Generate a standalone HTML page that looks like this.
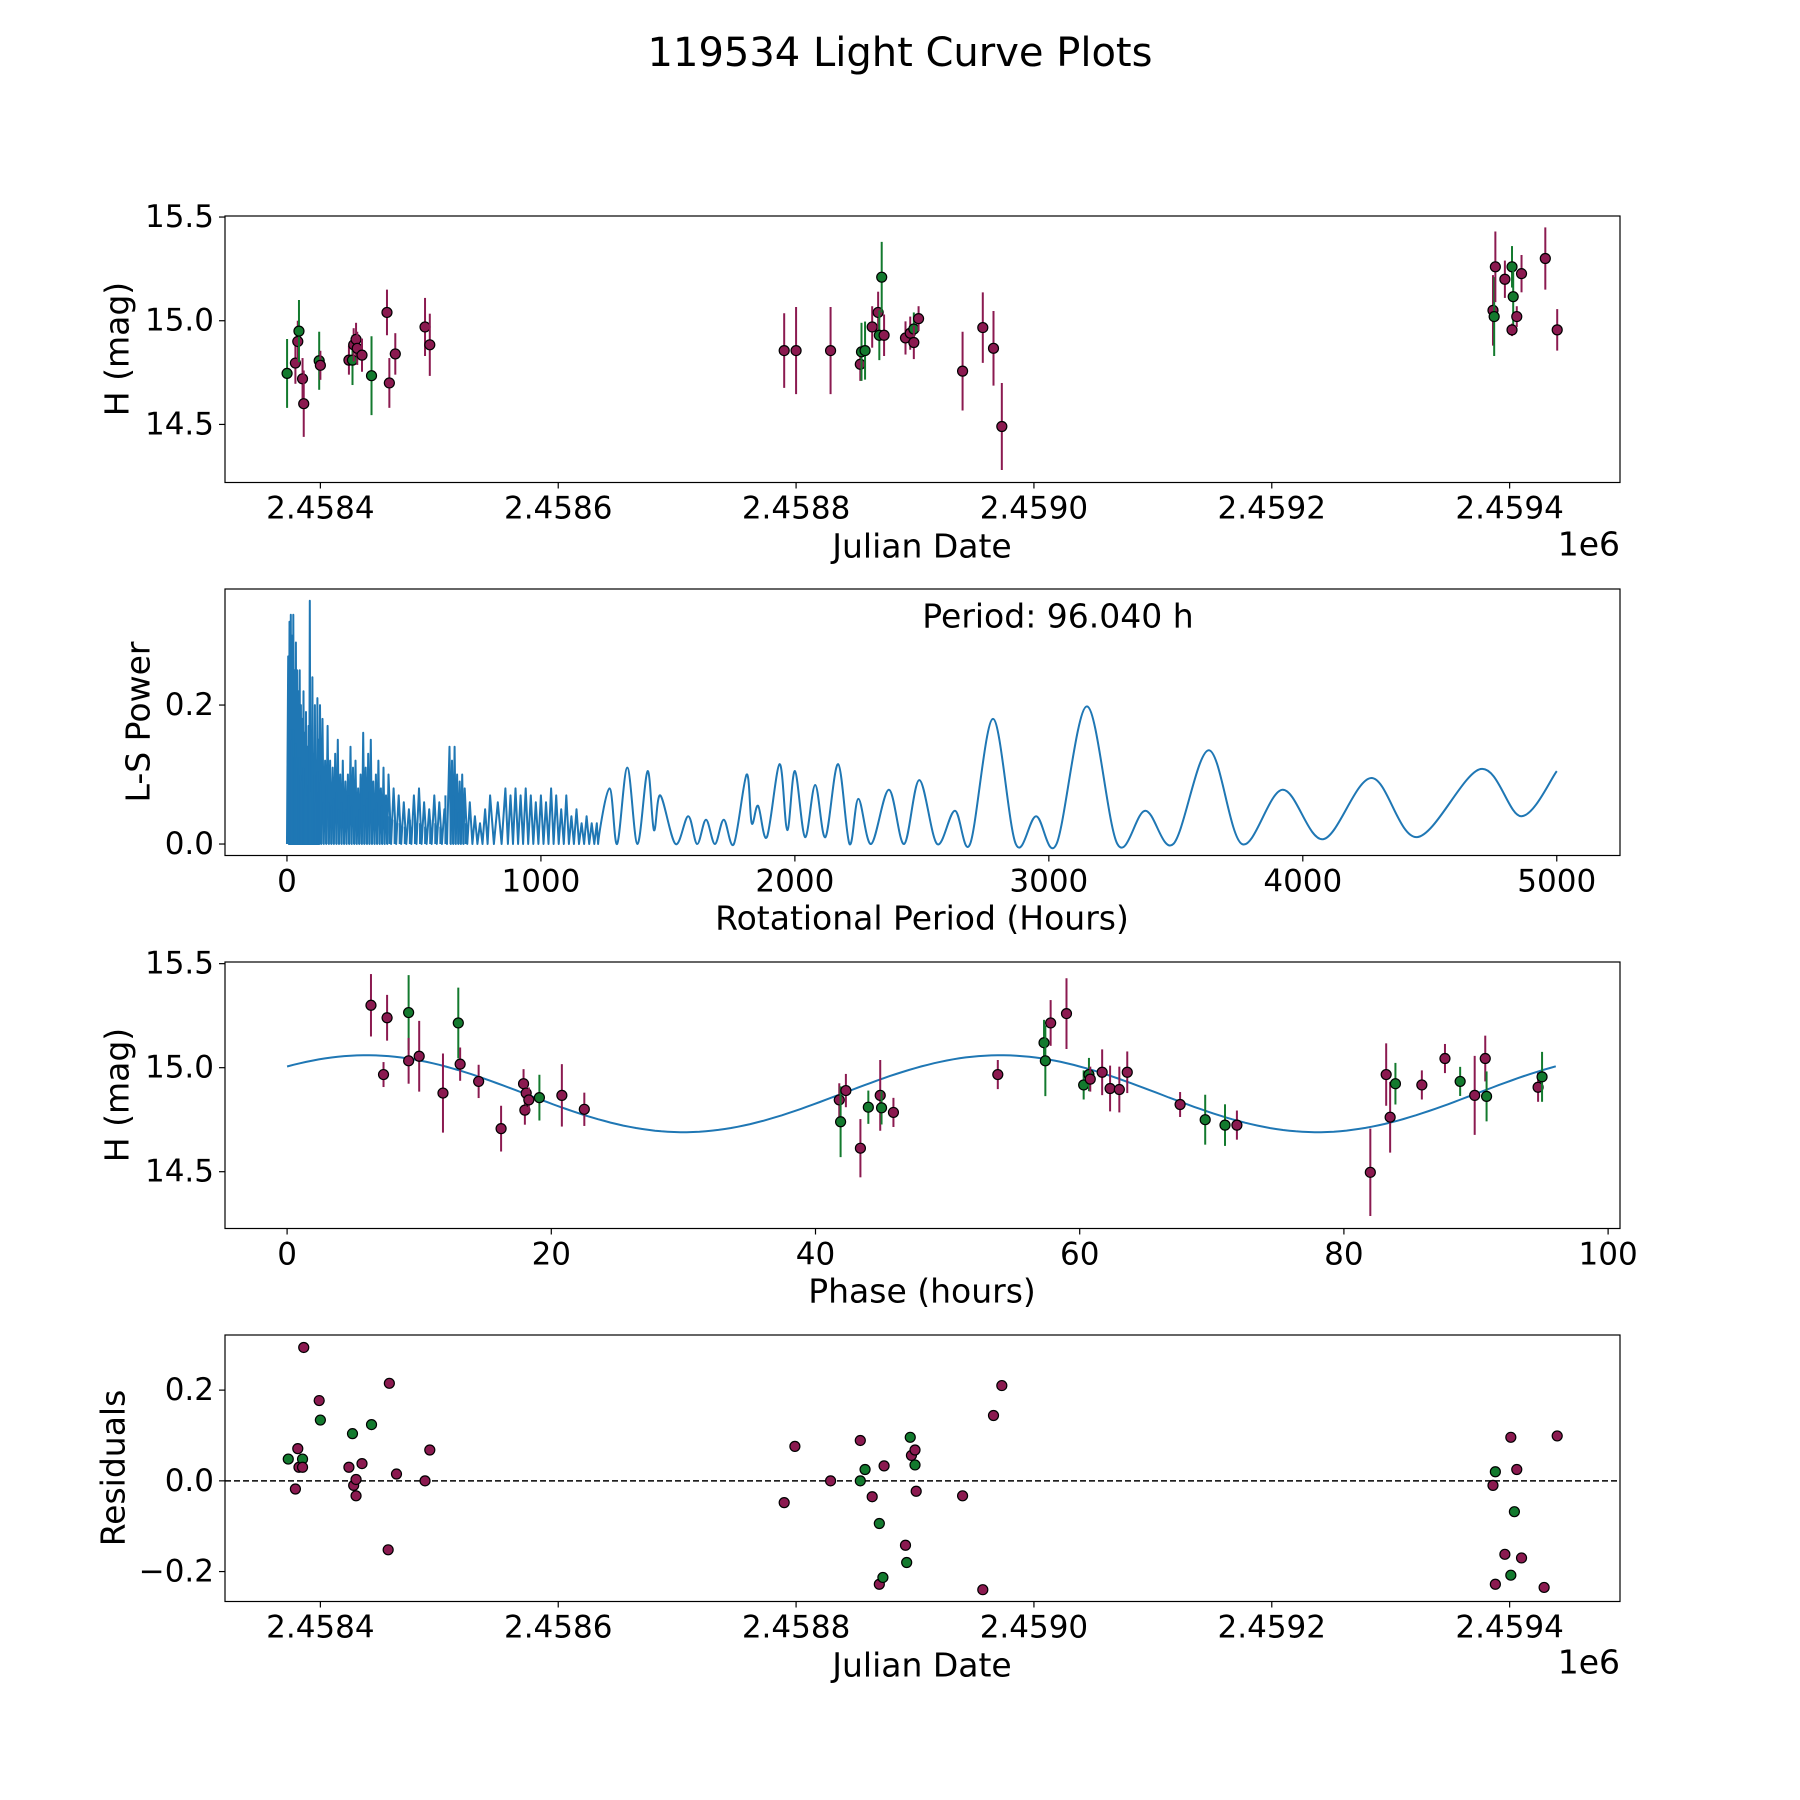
<!DOCTYPE html>
<html><head><meta charset="utf-8"><style>
html,body{margin:0;padding:0;background:#fff;}
svg{display:block;font-family:"DejaVu Sans","Liberation Sans",sans-serif;}
</style></head><body>
<svg id="fig" width="1800" height="1800" viewBox="0 0 1800 1800" xmlns="http://www.w3.org/2000/svg">
<rect width="1800" height="1800" fill="#fff"/>
<text x="900" y="53" text-anchor="middle" dominant-baseline="central" font-size="40">119534 Light Curve Plots</text>
</svg>
<script>
// ---------- data: light curve ----------
const lcJD = [2458372,2458379,2458381,2458382,2458385,2458386,2458399,2458400,2458424,2458427,2458428,2458430,2458431,2458435,2458443,2458456,2458458,2458463,2458488,2458492,
2458790,2458800,2458829,2458854,2458855,2458858,2458864,2458869,2458870,2458872,2458874,2458892,2458896,2458899,2458899,2458903,2458940,2458957,2458966,2458973,
2459386,2459387,2459388,2459396,2459402,2459403,2459402,2459406,2459410,2459430,2459440];
const lcMag = [14.746,14.796,14.90,14.95,14.72,14.60,14.807,14.785,14.81,14.81,14.884,14.91,14.867,14.834,14.735,15.04,14.70,14.84,14.97,14.884,
14.856,14.856,14.856,14.79,14.85,14.856,14.97,15.04,14.93,15.21,14.93,14.917,14.94,14.96,14.895,15.01,14.757,14.967,14.867,14.49,
15.05,15.02,15.26,15.20,15.26,15.116,14.956,15.02,15.227,15.30,14.956];
const lcErr = [0.166,0.10,0.10,0.15,0.10,0.16,0.14,0.07,0.07,0.12,0.08,0.08,0.08,0.08,0.19,0.11,0.12,0.10,0.14,0.15,
0.18,0.21,0.21,0.08,0.14,0.14,0.10,0.10,0.12,0.17,0.10,0.08,0.08,0.08,0.08,0.06,0.19,0.17,0.18,0.21,
0.17,0.19,0.17,0.09,0.10,0.16,0.03,0.05,0.09,0.15,0.10];
const lcBandFix = ["g","m","m","g","m","m","g","m","m","g","m","m","m","m","g","m","m","m","m","m",
"m","m","m","m","g","g","m","m","g","g","m","m","m","g","m","m","m","m","m","m",
"m","g","m","m","g","g","m","m","m","m","m"];
// ---------- data: periodogram ----------
const densePeriods = [5,10,15,20,25,30,35,40,45,50,55,60,65,70,75,80,85,90,95,100,105,110,115,120,125,130,140,150,160,170,180,190,200,210,220,230,240,250,260,270,280,290,300,310,320,330,340,350,360,370,380,390,400,420,440,460,480,500,520,540,560,580,600,620,640,650,660,670,680,690,700,720,740,760,780,800,830,860,880,900,920,940,960,980,1000,1020,1040,1060,1080,1100,1120,1140,1160,1180,1200,1220];
const densePowers = [.27,.32,.33,.30,.33,.25,.29,.25,.22,.25,.20,.18,.22,.16,.19,.14,.17,.35,.15,.24,.13,.20,.12,.21,.15,.20,.18,.12,.17,.12,.11,.13,.15,.10,.12,.09,.10,.14,.11,.12,.08,.10,.16,.11,.13,.15,.09,.10,.12,.08,.11,.07,.10,.08,.07,.06,.05,.07,.08,.06,.05,.07,.06,.05,.14,.12,.14,.10,.09,.10,.08,.06,.04,.03,.05,.07,.06,.08,.07,.08,.07,.08,.07,.06,.07,.06,.08,.07,.05,.07,.04,.05,.03,.04,.03,.03];
const smoothPeriods = [1220,1270,1300,1340,1380,1420,1445,1470,1530,1580,1615,1650,1685,1720,1760,1810,1830,1855,1890,1940,1970,2000,2040,2080,2120,2170,2215,2250,2300,2370,2430,2490,2560,2630,2690,2780,2870,2950,3030,3150,3270,3380,3490,3630,3760,3920,4080,4270,4450,4700,4860,5000];
const smoothPowers = [0,.08,0,.11,0,.105,.02,.07,0,.04,0,.035,0,.035,0,.10,.03,.055,.01,.115,.02,.105,.01,.085,.01,.115,0,.065,0,.078,0,.092,0,.048,0,.18,0,.04,0,.198,0,.048,0,.135,0,.078,.007,.095,.01,.108,.04,.105];
// ---------- data: phased ----------
const phHours = [6.35,7.57,7.3,9.2,9.2,10.0,11.8,12.96,13.1,14.5,16.2,17.9,18.0,18.1,18.3,19.1,20.8,22.5,
41.8,41.9,42.3,43.4,44.0,44.9,45.0,45.9,53.8,57.3,57.4,57.8,59.0,60.3,60.7,60.8,61.7,62.3,63.0,63.6,67.6,69.5,71.0,71.9,
82.0,83.2,83.5,83.9,85.9,87.65,88.8,89.9,90.7,90.8,94.7,95.0];
const phMag = [15.30,15.24,14.967,15.265,15.033,15.055,14.878,15.215,15.017,14.934,14.707,14.923,14.796,14.878,14.845,14.856,14.867,14.80,
14.845,14.74,14.89,14.613,14.81,14.867,14.807,14.785,14.967,15.12,15.033,15.215,15.26,14.917,14.967,14.945,14.978,14.90,14.895,14.978,14.823,14.75,14.724,14.724,
14.497,14.967,14.762,14.923,14.917,15.044,14.934,14.867,15.044,14.862,14.906,14.956];
const phErr = [.15,.11,.06,.18,.11,.17,.19,.17,.08,.08,.11,.07,.07,.06,.06,.11,.15,.08,
.08,.17,.08,.14,.08,.17,.08,.07,.07,.11,.17,.11,.17,.07,.08,.06,.11,.11,.11,.10,.06,.12,.10,.07,
.21,.15,.17,.10,.07,.07,.07,.19,.11,.12,.07,.12];
const phBand = ["m","m","m","g","m","m","m","g","m","m","m","m","m","m","m","g","m","m",
"m","g","m","m","g","m","g","m","m","g","g","m","m","g","g","m","m","m","m","m","m","g","g","m",
"m","m","m","g","m","m","g","m","m","g","m","g"];
const modelPeriod = 96.04, modelMean = 14.875, modelAmp = 0.185, modelPhase = 6, modelHalf = 48;
// ---------- data: residuals ----------
const resJD = [2458373,2458379,2458381,2458382,2458385,2458385,2458386,2458399,2458400,2458424,2458427,2458428,2458430,2458430,2458435,2458443,2458457,2458458,2458464,2458488,2458492,
2458790,2458799,2458829,2458854,2458854,2458858,2458864,2458870,2458870,2458873,2458874,2458892,2458893,2458896,2458897,2458900,2458900,2458901,2458940,2458957,2458966,2458973,
2459386,2459388,2459388,2459396,2459401,2459401,2459404,2459406,2459410,2459429,2459440];
const resVal = [.048,-.018,.071,.030,.048,.030,.294,.177,.134,.030,.104,-.010,-.033,.003,.038,.124,-.152,.215,.015,0,.068,
-.048,.076,0,.089,0,.025,-.035,-.094,-.228,-.213,.033,-.142,-.18,.096,.056,.068,.035,-.023,-.033,-.24,.144,.21,
-.01,.02,-.228,-.162,.096,-.208,-.068,.025,-.17,-.235,.099];
const resBand = ["g","m","m","m","g","m","m","m","g","m","g","m","m","m","m","g","m","m","m","m","m",
"m","m","m","m","g","g","m","g","m","g","m","m","g","g","m","m","g","m","m","m","m","m",
"m","g","m","m","m","g","g","m","m","m","m"];
const jdTicks = [2458400,2458600,2458800,2459000,2459200,2459400];
const jdTickLabels = ["2.4584","2.4586","2.4588","2.4590","2.4592","2.4594"];
const magTicks = [14.5,15.0,15.5];
const magTickLabels = ["14.5","15.0","15.5"];
const perTicks = [0,1000,2000,3000,4000,5000];
const powTicks = [0,0.2];
const powTickLabels = ["0.0","0.2"];
const phTicks = [0,20,40,60,80,100];
const resTicks = [-0.2,0,0.2];
const resTickLabels = ["\u22120.2","0.0","0.2"];

const NS = "http://www.w3.org/2000/svg";
const svg = document.getElementById('fig');
const COL = {m:"#8b1a50", g:"#137a2e"};
function el(tag, attrs, parent){ const e=document.createElementNS(NS,tag); for(const k in attrs) e.setAttribute(k,attrs[k]); (parent||svg).appendChild(e); return e; }
const L=225, R=1620;
function axes(top,bot,x0,x1,y0,y1,name){
  const g=el('g',{});
  
  
  const sx=v=>L+(v-x0)/(x1-x0)*(R-L), sy=v=>bot-(v-y0)/(y1-y0)*(bot-top);
  return {g,sx,sy,top,bot};
}
function frame(a){
  const r=el('rect',{x:L,y:a.top,width:R-L,height:a.bot-a.top,fill:'none',stroke:'#000','stroke-width':1.2},a.g);
  
  
}
function xticks(a,vals,labels){
  vals.forEach((v,i)=>{ const x=a.sx(v);
    el('line',{x1:x,x2:x,y1:a.bot,y2:a.bot+6,stroke:'#000','stroke-width':1.2},a.g);
    const t=el('text',{x:x,y:a.bot+26,'text-anchor':'middle','dominant-baseline':'central','font-size':31},a.g);
    t.textContent=labels?labels[i]:String(v);
    
    
  });
}
function yticks(a,vals,labels){
  vals.forEach((v,i)=>{ const y=a.sy(v);
    el('line',{x1:L-6,x2:L,y1:y,y2:y,stroke:'#000','stroke-width':1.2},a.g);
    const t=el('text',{x:L-11,y:y,'text-anchor':'end','dominant-baseline':'central','font-size':31},a.g);
    t.textContent=labels?labels[i]:String(v);
    
    
  });
}
function label(a,text,x,y,rot,name,anchor){
  const t=el('text',{x:x,y:y,'text-anchor':anchor||'middle','dominant-baseline':'central','font-size':33},a.g);
  if(rot) t.setAttribute('transform',`rotate(-90 ${x} ${y})`);
  t.textContent=text;
  
  
}
function point(a,x,y,b,err){
  if(err!==undefined){
    const l=el('line',{x1:x,x2:x,y1:y-err,y2:y+err,stroke:COL[b],'stroke-width':2},a.g);
    
    
  }
  const c=el('circle',{cx:x,cy:y,r:5,fill:COL[b],stroke:'#000','stroke-width':1.2},a.g);
  
  
}
const jdMin=2458319.8, jdMax=2459492.8;

// Panel 1
const a1=axes(216,482.5,jdMin,jdMax,14.22,15.505,'light-curve-panel');
lcJD.forEach((d,i)=>point(a1,a1.sx(d),a1.sy(lcMag[i]),lcBandFix[i],lcErr[i]/(15.505-14.22)*(a1.bot-a1.top)));
frame(a1); xticks(a1,jdTicks,jdTickLabels); yticks(a1,magTicks,magTickLabels);
label(a1,'Julian Date',922,546,false,'x-axis-title');
label(a1,'1e6',1620,544,false,'x-axis-offset','end');
label(a1,'H (mag)',117,349,true,'y-axis-title');

// Panel 2
const a2=axes(589,855.5,-244,5249,-0.0165,0.367,'periodogram-panel');
let pts=[];
for(let i=0;i<densePeriods.length;i++){
  pts.push([a2.sx(densePeriods[i]),a2.sy(densePowers[i])]);
  const nxt = i<densePeriods.length-1 ? densePeriods[i+1] : densePeriods[i]+10;
  pts.push([a2.sx((densePeriods[i]+nxt)/2),a2.sy(0)]);
}
let dPath='M'+a2.sx(0)+','+a2.sy(0)+' '+pts.map(p=>'L'+p[0].toFixed(1)+','+p[1].toFixed(1)).join(' ');
const sp=smoothPeriods.map((p,i)=>[a2.sx(p),a2.sy(smoothPowers[i])]);
for(let i=0;i<sp.length-1;i++){
  const p0=sp[Math.max(0,i-1)],p1=sp[i],p2=sp[i+1],p3=sp[Math.min(sp.length-1,i+2)];
  const c1=[p1[0]+(p2[0]-p0[0])/6,p1[1]+(p2[1]-p0[1])/6], c2=[p2[0]-(p3[0]-p1[0])/6,p2[1]-(p3[1]-p1[1])/6];
  dPath+=` C${c1[0].toFixed(1)},${c1[1].toFixed(1)} ${c2[0].toFixed(1)},${c2[1].toFixed(1)} ${p2[0].toFixed(1)},${p2[1].toFixed(1)}`;
}
const pl=el('path',{d:dPath,fill:'none',stroke:'#1f77b4','stroke-width':2,'stroke-linejoin':'round'},a2.g);


for(let i=0;i<densePeriods.length-1;i++){
  const x=a2.sx(densePeriods[i]);
  if(densePeriods[i]<720){
    const r=el('line',{x1:x+1,x2:x+1,y1:a2.sy(0),y2:a2.sy(densePowers[i+1]*0.5),stroke:'#1f77b4','stroke-width':2},a2.g);
    
    
  }
}
frame(a2); xticks(a2,perTicks); yticks(a2,powTicks,powTickLabels);
label(a2,'Rotational Period (Hours)',922,918,false,'x-axis-title');
label(a2,'L-S Power',138,722,true,'y-axis-title');
label(a2,'Period: 96.040 h',1058,616,false,'period-annotation');

// Panel 3
const a3=axes(962,1228.5,-4.7,100.9,14.227,15.508,'phased-panel');
let m='';
for(let k=0;k<=200;k++){ const t=modelPeriod*k/200; const v=modelMean+modelAmp*Math.cos(2*Math.PI*(t-modelPhase)/modelHalf);
  m+=(k?'L':'M')+a3.sx(t).toFixed(1)+','+a3.sy(v).toFixed(1)+' '; }
const ml=el('path',{d:m,fill:'none',stroke:'#1f77b4','stroke-width':2},a3.g);


phHours.forEach((h,i)=>point(a3,a3.sx(h),a3.sy(phMag[i]),phBand[i],phErr[i]/(15.508-14.227)*(a3.bot-a3.top)));
frame(a3); xticks(a3,phTicks); yticks(a3,magTicks,magTickLabels);
label(a3,'Phase (hours)',922,1291,false,'x-axis-title');
label(a3,'H (mag)',117,1095,true,'y-axis-title');

// Panel 4
const a4=axes(1335,1601.5,jdMin,jdMax,-0.266,0.3215,'residuals-panel');
const zl=el('line',{x1:L,x2:R,y1:a4.sy(0),y2:a4.sy(0),stroke:'#000','stroke-width':1.5,'stroke-dasharray':'6,3'},a4.g);


resJD.forEach((d,i)=>point(a4,a4.sx(d),a4.sy(resVal[i]),resBand[i]));
frame(a4); xticks(a4,jdTicks,jdTickLabels); yticks(a4,resTicks,resTickLabels);
label(a4,'Julian Date',922,1665,false,'x-axis-title');
label(a4,'1e6',1620,1662,false,'x-axis-offset','end');
label(a4,'Residuals',113,1468,true,'y-axis-title');
</script>
</body></html>
